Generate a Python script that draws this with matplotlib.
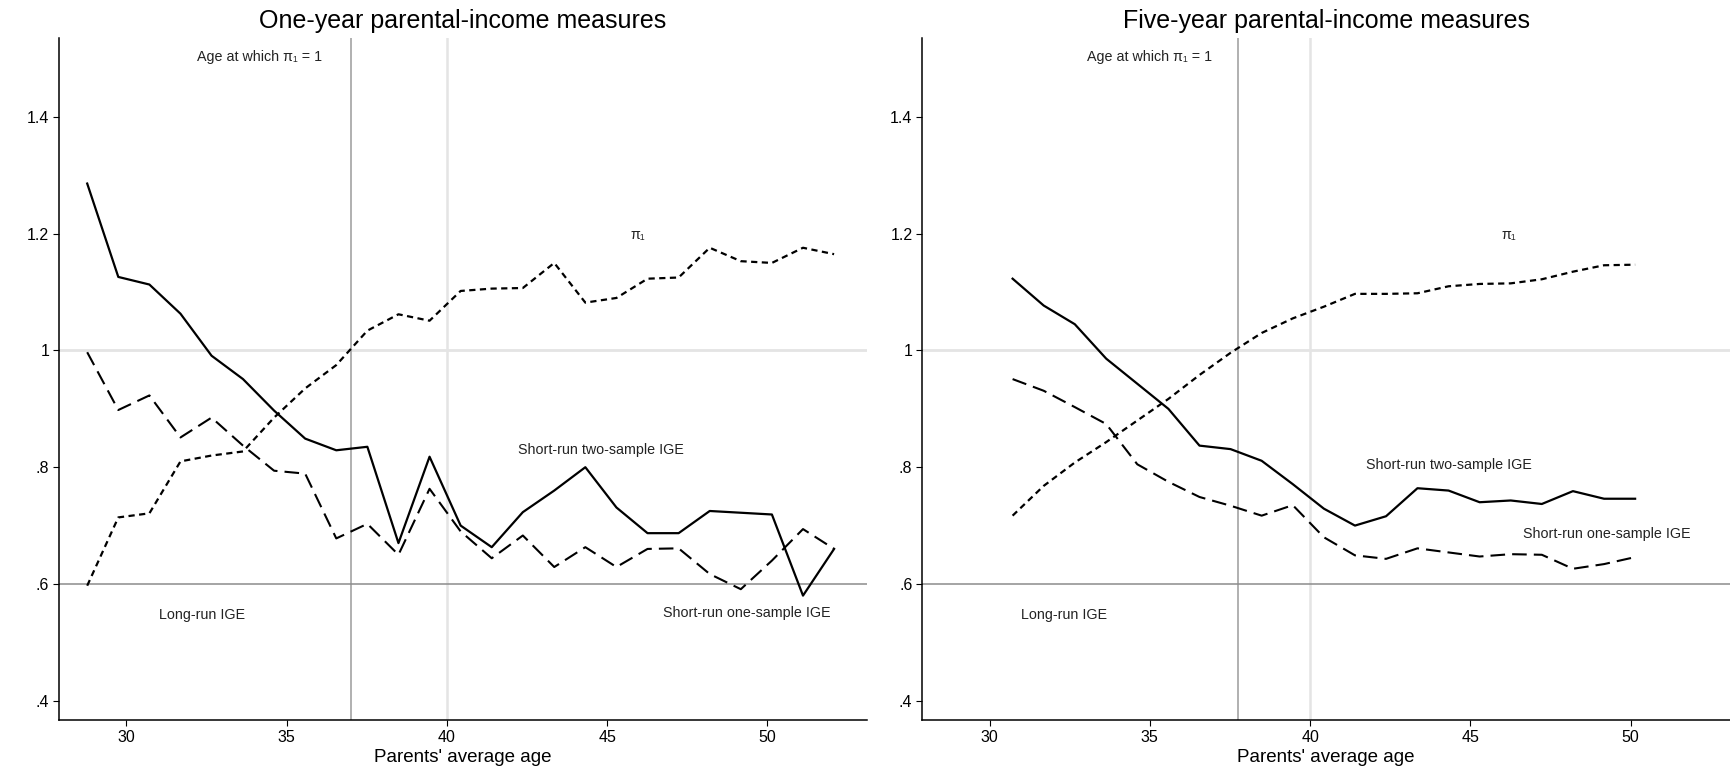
import numpy as np
import matplotlib
matplotlib.use('Agg')
import matplotlib.pyplot as plt

plt.rcParams['font.family'] = ['Liberation Sans', 'DejaVu Sans']

# one-year parental income measures
age_1y = [28.78, 29.75, 30.72, 31.69, 32.66, 33.64, 34.61, 35.58, 36.55, 37.52,
          38.49, 39.46, 40.43, 41.40, 42.37, 43.35, 44.32, 45.29, 46.26, 47.23,
          48.20, 49.17, 50.14, 51.11, 52.08]
two_sample_1y = [1.286, 1.126, 1.113, 1.063, 0.991, 0.951, 0.897, 0.849, 0.829, 0.835,
                 0.670, 0.818, 0.700, 0.663, 0.723, 0.760, 0.800, 0.731, 0.687, 0.687,
                 0.725, 0.722, 0.719, 0.580, 0.660]
one_sample_1y = [0.997, 0.898, 0.923, 0.851, 0.885, 0.837, 0.794, 0.789, 0.678, 0.703,
                 0.650, 0.763, 0.690, 0.644, 0.683, 0.629, 0.663, 0.629, 0.660, 0.661,
                 0.617, 0.591, 0.640, 0.694, 0.660]
pi_1y = [0.597, 0.714, 0.721, 0.810, 0.820, 0.827, 0.885, 0.935, 0.975, 1.034,
         1.062, 1.051, 1.102, 1.106, 1.107, 1.150, 1.082, 1.090, 1.123, 1.125,
         1.176, 1.153, 1.150, 1.176, 1.165]

# five-year parental income measures
age_5y = [30.72, 31.69, 32.66, 33.64, 34.61, 35.58, 36.55, 37.52, 38.49, 39.46,
          40.43, 41.40, 42.37, 43.35, 44.32, 45.29, 46.26, 47.23, 48.20, 49.17, 50.14]
two_sample_5y = [1.123, 1.077, 1.045, 0.986, 0.943, 0.900, 0.837, 0.831, 0.811, 0.771,
                 0.729, 0.700, 0.716, 0.764, 0.760, 0.740, 0.743, 0.737, 0.759, 0.746, 0.746]
one_sample_5y = [0.951, 0.931, 0.903, 0.874, 0.805, 0.775, 0.749, 0.734, 0.717, 0.735,
                 0.680, 0.649, 0.643, 0.661, 0.654, 0.647, 0.651, 0.650, 0.626, 0.634, 0.646]
pi_5y = [0.717, 0.768, 0.808, 0.843, 0.880, 0.917, 0.958, 0.996, 1.030, 1.055,
         1.075, 1.097, 1.097, 1.098, 1.110, 1.114, 1.115, 1.122, 1.135, 1.146, 1.147]

long_run_ige = 0.6
age_pi_one = [37.0, 37.75]

titles = ['One-year parental-income measures', 'Five-year parental-income measures']
yticks = [0.4, 0.6, 0.8, 1.0, 1.2, 1.4]
ytick_labels = ['.4', '.6', '.8', '1', '1.2', '1.4']
xticks = [30, 35, 40, 45, 50]

panels = [(age_1y, two_sample_1y, one_sample_1y, pi_1y),
          (age_5y, two_sample_5y, one_sample_5y, pi_5y)]

# label positions (age, value) per panel
label_pos = [
    {'agepi': (34.15, 1.502), 'pi': (45.96, 1.197), 'two': (44.82, 0.830),
     'long': (32.35, 0.546), 'one': (49.35, 0.551)},
    {'agepi': (34.99, 1.502), 'pi': (46.2, 1.197), 'two': (44.34, 0.803),
     'long': (32.33, 0.546), 'one': (49.25, 0.686)},
]

fig, axes = plt.subplots(1, 2, figsize=(17.3, 7.8), dpi=100)
fig.subplots_adjust(left=0.0341, right=1.0, bottom=0.077, top=0.951, wspace=0.0686)

txt = dict(fontsize=10.3, color='#222222', ha='center', va='center')

for i, ax in enumerate(axes):
    age, two, one, pi = panels[i]

    ax.axhline(1.0, color='#e4e4e4', lw=2, zorder=1)
    ax.axvline(40, color='#e4e4e4', lw=1.8, zorder=1)
    ax.axvline(age_pi_one[i], color='#b0b0b0', lw=1.4, zorder=1)
    ax.axhline(long_run_ige, color='#8c8c8c', lw=1.1, zorder=1)

    ax.plot(age, two, color='black', lw=1.6, solid_joinstyle='round', zorder=3)
    ax.plot(age, one, color='black', lw=1.5, dashes=(7.0, 3.4), zorder=3)
    ax.plot(age, pi, color='black', lw=1.6, dashes=(2.8, 2.0), zorder=3)

    p = label_pos[i]
    ax.text(*p['agepi'], 'Age at which π\u2081 = 1', **txt)
    ax.text(*p['pi'], 'π\u2081', **txt)
    ax.text(*p['two'], 'Short-run two-sample IGE', **txt)
    ax.text(*p['long'], 'Long-run IGE', **txt)
    ax.text(*p['one'], 'Short-run one-sample IGE', **txt)

    ax.set_xlim(27.9, 53.1)
    ax.set_ylim(0.367, 1.535)
    ax.set_yticks(yticks)
    ax.set_yticklabels(ytick_labels)
    ax.set_xticks(xticks)
    ax.tick_params(labelsize=11.5, length=4, width=0.8, colors='black', pad=3)
    ax.spines['top'].set_visible(False)
    ax.spines['right'].set_visible(False)
    ax.spines['left'].set_linewidth(1.1)
    ax.spines['bottom'].set_linewidth(1.1)
    ax.set_xlabel("Parents' average age", fontsize=13.5, labelpad=3)
    ax.set_title(titles[i], fontsize=18, pad=7)

plt.savefig('out.png', dpi=100)
